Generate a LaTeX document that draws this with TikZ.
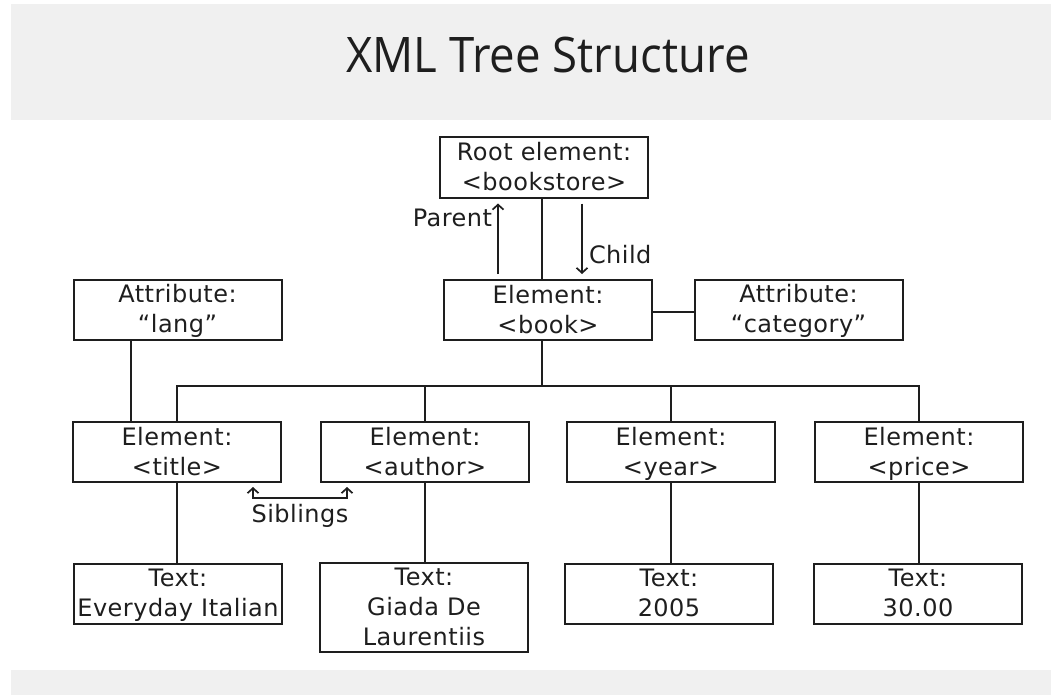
\documentclass[tikz,border=0pt]{standalone}
\usepackage{fontspec}
\usepackage{tikz}
\usetikzlibrary{arrows.meta}

\newfontfamily\boxfont[LetterSpace=2]{DejaVu Sans}
\newfontfamily\titlefont{Open Sans}
\definecolor{band}{HTML}{F0F0F0}
\definecolor{ink}{HTML}{1E1E1E}

\begin{document}
\begin{tikzpicture}[%
        x = 1pt,
        y = -1pt,
        line width = 2pt,
        draw = ink,
        > = {Straight Barb[length = 5pt, width = 11pt]},
        box/.style = {draw = ink, minimum width = 208pt, minimum height = 60pt,
            inner sep = 0pt, align = center, text = ink, text depth = 2pt,
            font = \boxfont\fontsize{24}{30}\selectfont},
        tag/.style = {inner sep = 1pt, text = ink,
            font = \boxfont\fontsize{24}{30}\selectfont},
    ]

        % Page size and the grey bands.
        \useasboundingbox (0, 0) rectangle (1051, 695);
        \fill[band] (11, 4) rectangle (1051, 120);
        \fill[band] (11, 670) rectangle (1051, 695);

        % Heading.
        \node[anchor = base, inner sep = 0pt, text = ink,
            font = \titlefont\fontsize{49}{55}\selectfont]
            (heading) at (548, 73) {\scalebox{0.93}[1]{XML Tree Structure}};

        % Position of the boxes.
        \node[box] (root) at (544, 167.5) {Root element:\\<bookstore>};
        \node[box] (book) at (548, 310) {Element:\\<book>};
        \node[box] (lang) at (177.5, 309.5) {Attribute:\\“lang”};
        \node[box] (category) at (798.5, 309.5) {Attribute:\\“category”};

        \node[box] (title) at (177, 452) {Element:\\<title>};
        \node[box] (author) at (425, 452) {Element:\\<author>};
        \node[box] (year) at (671, 452) {Element:\\<year>};
        \node[box] (price) at (919, 452) {Element:\\<price>};

        \node[box] (titletext) at (178, 593.5) {Text:\\Everyday Italian};
        \node[box, minimum height = 89pt] (authortext) at (424, 607.5)
            {Text:\\Giada De\\Laurentiis};
        \node[box] (yeartext) at (669, 593.5) {Text:\\2005};
        \node[box] (pricetext) at (918, 593.5) {Text:\\30.00};

        % Helper coordinates for the lines.
        \coordinate (bus) at (542, 386);
        \coordinate (langx) at (131, 0);
        \coordinate (parentx) at (498, 0);
        \coordinate (childx) at (582, 0);

        % Draw the tree lines.
        \draw (root.south -| bus) -- (book.north -| bus);
        \draw (book.south -| bus) -- (bus);
        \draw (title.north) |- (bus);
        \draw (price.north) |- (bus);
        \draw (author.north) -- (author.north |- bus);
        \draw (year.north) -- (year.north |- bus);
        \draw (book.east) ++(0, 2) -- (category.west |- 0, 312);
        \draw (lang.south -| langx) -- (title.north -| langx);

        \draw (title.south) -- (title.south |- titletext.north);
        \draw (author.south) -- (author.south |- authortext.north);
        \draw (year.south) -- (year.south |- yeartext.north);
        \draw (price.south) -- (price.south |- pricetext.north);

        % Parent, child and sibling arrows.
        \begin{scope}[
            ->,
            line width = 1.7pt,
        ]
            \draw[shorten < = 5pt, shorten > = 5pt]
                (book.north -| parentx) to (root.south -| parentx);
            \draw[shorten < = 5pt, shorten > = 5pt]
                (root.south -| childx) to (book.north -| childx);
        \end{scope}
        \node[tag, anchor = base east] (parent) at (494, 226) {Parent};
        \node[tag, anchor = base west] (child) at (587, 263) {Child};

        \coordinate (sibleft) at (253, 487);
        \coordinate (sibright) at (347, 487);
        \coordinate (sibbar) at (300, 498);
        \draw[<->, line width = 1.7pt] (sibleft) |- (sibbar) -| (sibright);
        \node[tag, anchor = base] (siblings) at (300, 522) {Siblings};
    \end{tikzpicture}
\end{document}
